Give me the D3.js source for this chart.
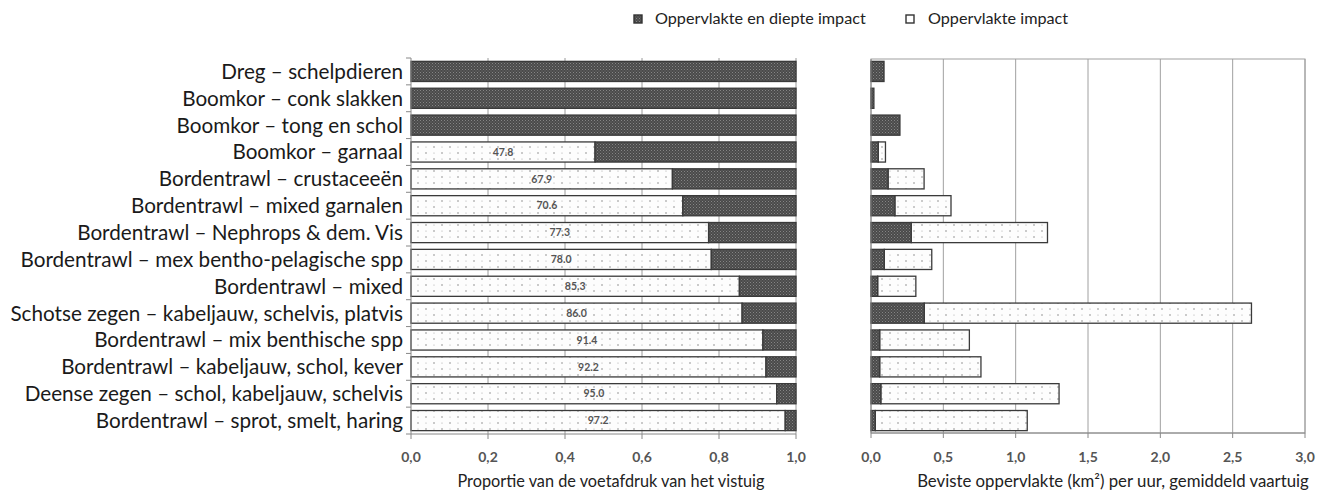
<!DOCTYPE html>
<html><head><meta charset="utf-8">
<script src="https://cdn.jsdelivr.net/npm/d3@7"></script>
<style>body{margin:0;background:#fff;} svg{display:block;}</style>
</head><body>
<svg id="c" width="1333" height="499"></svg>
<script>
const categories = [
 "Dreg – schelpdieren","Boomkor – conk slakken","Boomkor – tong en schol","Boomkor – garnaal",
 "Bordentrawl – crustaceeën","Bordentrawl – mixed garnalen","Bordentrawl – Nephrops & dem. Vis",
 "Bordentrawl – mex bentho-pelagische spp","Bordentrawl – mixed","Schotse zegen – kabeljauw, schelvis, platvis",
 "Bordentrawl – mix benthische spp","Bordentrawl – kabeljauw, schol, kever","Deense zegen – schol, kabeljauw, schelvis",
 "Bordentrawl – sprot, smelt, haring"];
// percentage of footprint with surface-only impact
const surfacePct = [0,0,0,47.8,67.9,70.6,77.3,78.0,85.3,86.0,91.4,92.2,95.0,97.2];
// right chart: km2 per hour, surface & depth vs surface only
const areaDeep =    [0.09,0.02,0.20,0.05,0.118,0.165,0.278,0.092,0.046,0.368,0.060,0.060,0.068,0.030];
const areaSurface = [0.00,0.00,0.00,0.05,0.249,0.388,0.942,0.328,0.264,2.262,0.620,0.700,1.232,1.050];
const leftTicks = [0,0.2,0.4,0.6,0.8,1.0];
const rightTicks = [0,0.5,1,1.5,2,2.5,3];
const seriesNames = ["Oppervlakte en diepte impact","Oppervlakte impact"];

const svg = d3.select("#c");
const font = "Lato, 'Open Sans', sans-serif";
const defs = svg.append("defs");
// dark pattern
const pd = defs.append("pattern").attr("id","dark").attr("patternUnits","userSpaceOnUse").attr("width",3).attr("height",3);
pd.append("rect").attr("width",3).attr("height",3).attr("fill","#4a4a4a");
pd.append("rect").attr("x",0).attr("y",0).attr("width",1).attr("height",1).attr("fill","#858585");
pd.append("rect").attr("x",1.5).attr("y",1.5).attr("width",1).attr("height",1).attr("fill","#757575");
// light dotted pattern
const pl = defs.append("pattern").attr("id","light").attr("patternUnits","userSpaceOnUse").attr("width",16).attr("height",12);
pl.append("rect").attr("width",16).attr("height",12).attr("fill","#fdfdfd");
pl.append("circle").attr("cx",2).attr("cy",3).attr("r",0.8).attr("fill","#8a8a8a");
pl.append("circle").attr("cx",10).attr("cy",9).attr("r",0.8).attr("fill","#8a8a8a");
pl.append("circle").attr("cx",10).attr("cy",3).attr("r",0.6).attr("fill","#aaa");
pl.append("circle").attr("cx",2).attr("cy",9).attr("r",0.6).attr("fill","#aaa");

const yTop = 58, yBot = 434;
const y = d3.scaleBand().domain(categories).range([yTop,yBot]).paddingInner(0.25).paddingOuter(0.125);

// ---------- Left chart ----------
const xL = d3.scaleLinear().domain([0,1]).range([411,796]);
const gL = svg.append("g");
gL.selectAll("line.grid").data(leftTicks.slice(1)).join("line")
  .attr("x1",d=>xL(d)).attr("x2",d=>xL(d)).attr("y1",yTop).attr("y2",yBot)
  .attr("stroke","#9a9a9a").attr("stroke-width",1);
categories.forEach((c,i)=>{
  const p = surfacePct[i]/100;
  const yy = y(c), h = y.bandwidth();
  if(p>0){
    gL.append("rect").attr("x",xL(0)).attr("y",yy).attr("width",xL(p)-xL(0)).attr("height",h)
      .attr("fill","url(#light)").attr("stroke","#3a3a3a").attr("stroke-width",1.3);
  }
  gL.append("rect").attr("x",xL(p)).attr("y",yy).attr("width",xL(1)-xL(p)).attr("height",h)
    .attr("fill","url(#dark)").attr("stroke","#3a3a3a").attr("stroke-width",1.3);
  if(p>0){
    gL.append("text").attr("x",(xL(0)+xL(p))/2).attr("y",yy+h/2).attr("dy","0.35em")
      .attr("text-anchor","middle").attr("font-family",font).attr("font-size",10.5).attr("font-weight","bold")
      .attr("fill","#555").text(surfacePct[i].toFixed(1));
  }
});
gL.append("line").attr("x1",411).attr("x2",411).attr("y1",yTop).attr("y2",yBot).attr("stroke","#888");
d3.range(categories.length+1).forEach(k=>{
  const yy = yTop + k*(yBot-yTop)/categories.length;
  gL.append("line").attr("x1",406).attr("x2",411).attr("y1",yy).attr("y2",yy).attr("stroke","#888");
});
const catText = gL.selectAll("text.cat").data(categories).join("text").attr("class","cat")
  .attr("x",403).attr("y",d=>y(d)+y.bandwidth()/2).attr("dy","0.36em").attr("text-anchor","end")
  .attr("font-family",font).attr("font-size",20).attr("fill","#1a1a1a").text(d=>d);
// fit longest label to the reference width (~393px)
const maxW = d3.max(catText.nodes(), n=>n.getComputedTextLength());
catText.attr("font-size", 20*393/maxW);

gL.append("line").attr("x1",411).attr("x2",796).attr("y1",yBot).attr("y2",yBot).attr("stroke","#888");
gL.selectAll("line.xt").data(leftTicks).join("line").attr("x1",d=>xL(d)).attr("x2",d=>xL(d))
  .attr("y1",yBot).attr("y2",yBot+5).attr("stroke","#888");
gL.selectAll("text.xl").data(leftTicks).join("text").attr("x",d=>xL(d)).attr("y",462)
  .attr("text-anchor","middle").attr("font-family",font).attr("font-size",14).attr("font-weight","bold")
  .attr("fill","#555").text(d=>d3.format(".1f")(d).replace(".",","));
gL.append("text").attr("x",611).attr("y",487).attr("text-anchor","middle").attr("font-family",font)
  .attr("font-size",16.3).attr("fill","#222").text("Proportie van de voetafdruk van het vistuig");

// ---------- Right chart ----------
const xR = d3.scaleLinear().domain([0,3]).range([871,1305]);
const gR = svg.append("g");
const rTop = 59, rBot = 433;
gR.selectAll("line.grid").data(rightTicks.slice(1)).join("line")
  .attr("x1",d=>xR(d)).attr("x2",d=>xR(d)).attr("y1",rTop).attr("y2",rBot)
  .attr("stroke","#a0a0a0").attr("stroke-width",1);
gR.append("rect").attr("x",xR(0)).attr("y",rTop).attr("width",xR(3)-xR(0)).attr("height",rBot-rTop)
  .attr("fill","none").attr("stroke","#a0a0a0");
categories.forEach((c,i)=>{
  const yy = y(c), h = y.bandwidth();
  const d0 = areaDeep[i], s0 = areaSurface[i];
  if(s0>0){
    gR.append("rect").attr("x",xR(d0)).attr("y",yy).attr("width",xR(d0+s0)-xR(d0)).attr("height",h)
      .attr("fill","url(#light)").attr("stroke","#3a3a3a").attr("stroke-width",1.3);
  }
  gR.append("rect").attr("x",xR(0)).attr("y",yy).attr("width",xR(d0)-xR(0)).attr("height",h)
    .attr("fill","url(#dark)").attr("stroke","#3a3a3a").attr("stroke-width",1.3);
});
gR.append("line").attr("x1",871).attr("x2",871).attr("y1",rTop).attr("y2",rBot).attr("stroke","#888");
gR.append("line").attr("x1",871).attr("x2",1305).attr("y1",rBot).attr("y2",rBot).attr("stroke","#888");
gR.selectAll("line.xt").data(rightTicks).join("line").attr("x1",d=>xR(d)).attr("x2",d=>xR(d))
  .attr("y1",rBot).attr("y2",rBot+5).attr("stroke","#888");
gR.selectAll("text.xl").data(rightTicks).join("text").attr("x",d=>xR(d)).attr("y",462)
  .attr("text-anchor","middle").attr("font-family",font).attr("font-size",14).attr("font-weight","bold")
  .attr("fill","#555").text(d=>d3.format(".1f")(d).replace(".",","));
gR.append("text").attr("x",1113).attr("y",487).attr("text-anchor","middle").attr("font-family",font)
  .attr("font-size",16.8).attr("fill","#222").text("Beviste oppervlakte (km²) per uur, gemiddeld vaartuig");

// ---------- Legend ----------
const lg = svg.append("g");
const lx = [634, 906];
seriesNames.forEach((n,i)=>{
  lg.append("rect").attr("x",lx[i]).attr("y",15).attr("width",8).attr("height",8)
    .attr("fill",i===0?"url(#dark)":"#fff").attr("stroke","#333").attr("stroke-width",1.4);
  lg.append("text").attr("x",lx[i]+(i===0?21:22)).attr("y",24).attr("font-family",font).attr("font-size",16.2)
    .attr("fill","#222").text(n);
});
</script>
</body></html>
